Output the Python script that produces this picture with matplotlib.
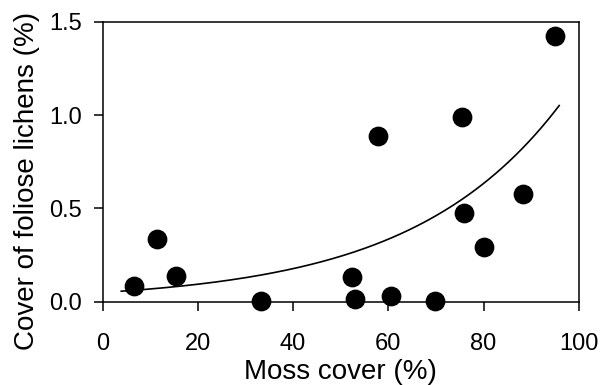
import matplotlib
matplotlib.use("Agg")
import matplotlib.pyplot as plt
import numpy as np

plt.rcParams['font.family'] = ['Liberation Sans', 'DejaVu Sans']

moss_cover = [6.5, 11.4, 15.3, 33.2, 52.4, 52.9, 57.9, 60.6, 69.9, 75.4, 75.8, 80.2, 88.2, 95.0]
foliose_cover = [0.086, 0.336, 0.138, 0.003, 0.134, 0.014, 0.889, 0.032, 0.004, 0.988, 0.475, 0.293, 0.579, 1.425]

# Fitted exponential model: y = a * exp(b * x)
fit_a = 0.0495
fit_b = 0.03186
fit_x_start = 3.9
fit_x_end = 95.9

x_ticks = [0, 20, 40, 60, 80, 100]
y_ticks = [0.0, 0.5, 1.0, 1.5]
y_tick_labels = ['0.0', '0.5', '1.0', '1.5']

fig = plt.figure(figsize=(6.12, 3.85), dpi=100)
ax = fig.add_axes([0.1678, 0.2164, 0.9456 - 0.1678, 0.9436 - 0.2164])

fit_x = np.linspace(fit_x_start, fit_x_end, 200)
fit_y = fit_a * np.exp(fit_b * fit_x)
ax.plot(fit_x, fit_y, color='black', linewidth=1.2, zorder=2)

ax.scatter(moss_cover, foliose_cover, s=175, color='black', zorder=3, clip_on=False)

ax.set_xlim(0, 100)
ax.set_ylim(0, 1.5)
ax.set_xticks(x_ticks)
ax.set_yticks(y_ticks)
ax.set_yticklabels(y_tick_labels)

for sp in ax.spines.values():
    sp.set_linewidth(1.1)
    sp.set_color('black')

ax.tick_params(direction='out', length=6.2, width=1.1, labelsize=17, colors='black')
ax.tick_params(axis='x', pad=16)
ax.tick_params(axis='y', pad=9)

ax.set_xlabel('Moss cover (%)', fontsize=20, labelpad=3)
ax.set_ylabel('Cover of foliose lichens (%)', fontsize=20)
ax.yaxis.set_label_coords(-0.132, 0.431)

fig.savefig('out.png', dpi=100)
